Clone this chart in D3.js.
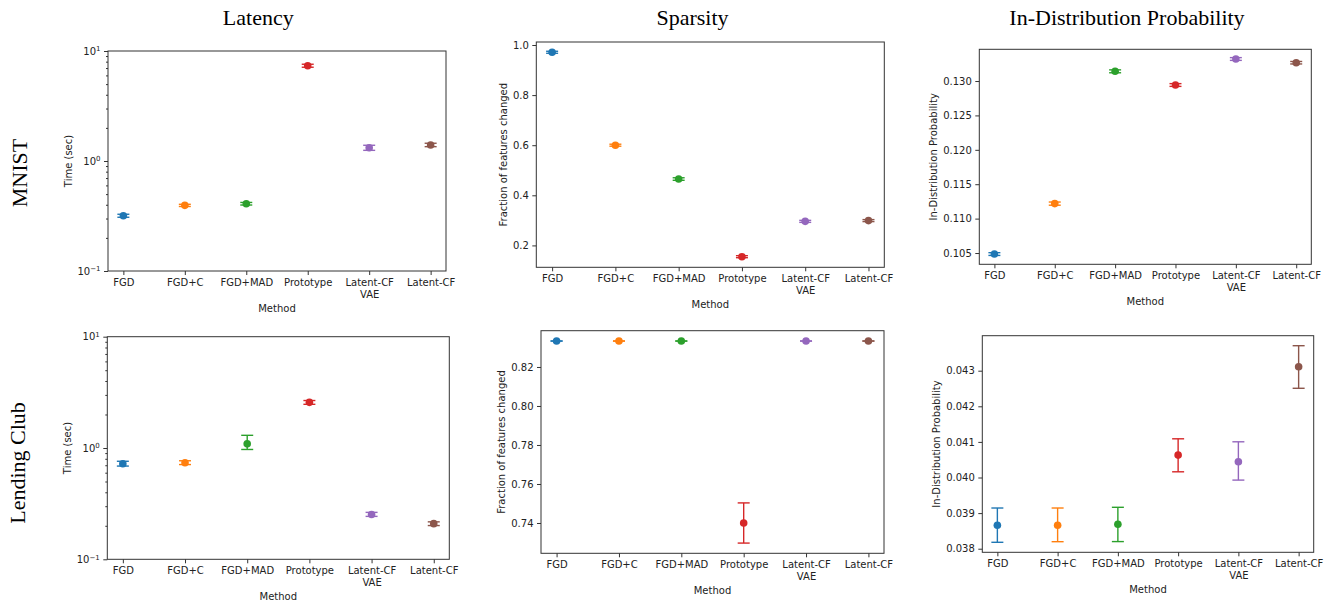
<!DOCTYPE html>
<html>
<head>
<meta charset="utf-8">
<script src="https://cdn.jsdelivr.net/npm/d3@7"></script>
<style>
body { margin: 0; background: #fff; }
</style>
</head>
<body>
<svg id="chart" width="1330" height="604"></svg>
<script>
// categories and colours
var methods = ["FGD", "FGD+C", "FGD+MAD", "Prototype", "Latent-CF\nVAE", "Latent-CF"];
var colors = ["#1f77b4", "#ff7f0e", "#2ca02c", "#d62728", "#9467bd", "#8c564b"];

// MNIST, latency (sec)
var mnistLatency   = [0.318, 0.395, 0.409, 7.35, 1.32, 1.40];
var mnistLatencyLo = [0.308, 0.386, 0.398, 7.12, 1.25, 1.35];
var mnistLatencyHi = [0.328, 0.404, 0.420, 7.58, 1.39, 1.45];

// MNIST, sparsity
var mnistSparsity   = [0.971, 0.600, 0.465, 0.155, 0.296, 0.299];
var mnistSparsityLo = [0.967, 0.596, 0.460, 0.151, 0.292, 0.295];
var mnistSparsityHi = [0.975, 0.604, 0.470, 0.159, 0.300, 0.303];

// MNIST, in-distribution probability
var mnistIdp   = [0.10485, 0.11218, 0.13141, 0.12942, 0.13320, 0.13266];
var mnistIdpLo = [0.10465, 0.11195, 0.13120, 0.12922, 0.13300, 0.13248];
var mnistIdpHi = [0.10505, 0.11241, 0.13162, 0.12962, 0.13340, 0.13284];

// Lending Club, latency (sec)
var lcLatency   = [0.723, 0.738, 1.09, 2.57, 0.253, 0.209];
var lcLatencyLo = [0.688, 0.710, 0.97, 2.47, 0.243, 0.201];
var lcLatencyHi = [0.760, 0.768, 1.30, 2.67, 0.264, 0.217];

// Lending Club, sparsity
var lcSparsity   = [0.8333, 0.8333, 0.8333, 0.7400, 0.8333, 0.8333];
var lcSparsityLo = [0.8333, 0.8333, 0.8333, 0.7297, 0.8333, 0.8333];
var lcSparsityHi = [0.8333, 0.8333, 0.8333, 0.7503, 0.8333, 0.8333];

// Lending Club, in-distribution probability
var lcIdp   = [0.038657, 0.038657, 0.038685, 0.040629, 0.040441, 0.043112];
var lcIdpLo = [0.038180, 0.038197, 0.038200, 0.040160, 0.039927, 0.042506];
var lcIdpHi = [0.039143, 0.039143, 0.039163, 0.041087, 0.041003, 0.043702];

// tick values
var latencyTicks = [0.1, 1, 10];
var mnistSparsityTicks = [0.2, 0.4, 0.6, 0.8, 1.0];
var mnistIdpTicks = [0.105, 0.110, 0.115, 0.120, 0.125, 0.130];
var lcSparsityTicks = [0.74, 0.76, 0.78, 0.80, 0.82];
var lcIdpTicks = [0.038, 0.039, 0.040, 0.041, 0.042, 0.043];

var titles = ["Latency", "Sparsity", "In-Distribution Probability"];
var rowLabels = ["MNIST", "Lending Club"];

var panels = [
    {left: 108, top: 51, width: 338, height: 220, log: true, domain: [0.1, 10], ticks: latencyTicks,
     mean: mnistLatency, lo: mnistLatencyLo, hi: mnistLatencyHi, ylabel: "Time (sec)"},
    {left: 536.3, top: 42, width: 348, height: 225.3, domain: [0.1126, 1.012], ticks: mnistSparsityTicks, fmt: ".1f",
     mean: mnistSparsity, lo: mnistSparsityLo, hi: mnistSparsityHi, ylabel: "Fraction of features changed"},
    {left: 979.3, top: 49.3, width: 332, height: 215, domain: [0.10336, 0.13461], ticks: mnistIdpTicks, fmt: ".3f",
     mean: mnistIdp, lo: mnistIdpLo, hi: mnistIdpHi, ylabel: "In-Distribution Probability"},
    {left: 107.3, top: 336.7, width: 342, height: 222.6, log: true, domain: [0.1, 10], ticks: latencyTicks,
     mean: lcLatency, lo: lcLatencyLo, hi: lcLatencyHi, ylabel: "Time (sec)"},
    {left: 541, top: 330.7, width: 343, height: 222.6, domain: [0.72446, 0.8386], ticks: lcSparsityTicks, fmt: ".2f",
     mean: lcSparsity, lo: lcSparsityLo, hi: lcSparsityHi, ylabel: "Fraction of features changed"},
    {left: 982.3, top: 335.7, width: 331.4, height: 216.6, domain: [0.037899, 0.043983], ticks: lcIdpTicks, fmt: ".3f",
     mean: lcIdp, lo: lcIdpLo, hi: lcIdpHi, ylabel: "In-Distribution Probability"}
];

var svg = d3.select("#chart");
var tickFont = "DejaVu Sans, sans-serif";
var serif = "Liberation Serif, Times New Roman, serif";

function drawPanel(p) {
    var g = svg.append("g");
    var bottom = p.top + p.height;

    var x = d3.scalePoint().domain(methods).range([p.left, p.left + p.width]).padding(0.25);
    var y = (p.log ? d3.scaleLog() : d3.scaleLinear()).domain(p.domain).range([bottom, p.top]);

    /* x axis, with two-line labels */
    var xAxis = g.append("g")
        .attr("transform", "translate(0," + bottom + ")")
        .call(d3.axisBottom(x).tickSize(4).tickPadding(3.5));
    xAxis.select(".domain").remove();
    xAxis.attr("font-family", tickFont).attr("font-size", 10);
    xAxis.selectAll(".tick line").attr("stroke", "#333");
    xAxis.selectAll(".tick text").attr("fill", "#222").attr("dy", null).each(function(d) {
        var t = d3.select(this);
        t.text(null);
        d.split("\n").forEach(function(line, i) {
            t.append("tspan").attr("x", 0).attr("dy", i ? "1.2em" : "0.71em").text(line);
        });
    });

    /* y axis */
    var yAxis = g.append("g")
        .attr("transform", "translate(" + p.left + ",0)")
        .call(d3.axisLeft(y).tickValues(p.ticks).tickSize(4).tickPadding(3.5)
            .tickFormat(p.log ? function() { return ""; } : d3.format(p.fmt)));
    yAxis.select(".domain").remove();
    yAxis.attr("font-family", tickFont).attr("font-size", 10);
    yAxis.selectAll(".tick line").attr("stroke", "#333");
    yAxis.selectAll(".tick text").attr("fill", "#222");

    if (p.log) {
        yAxis.selectAll(".tick text").each(function(d) {
            var e = Math.round(Math.log10(d));
            var t = d3.select(this);
            t.text("10");
            t.append("tspan").attr("dy", "-0.5em").attr("font-size", 7)
                .text(e < 0 ? "\u2212" + (-e) : String(e));
        });
        var minors = [];
        [0.1, 1].forEach(function(b) {
            for (var k = 2; k <= 9; k++) minors.push(b * k);
        });
        var minor = g.append("g")
            .attr("transform", "translate(" + p.left + ",0)")
            .call(d3.axisLeft(y).tickValues(minors).tickSize(2).tickFormat(""));
        minor.select(".domain").remove();
        minor.selectAll(".tick line").attr("stroke", "#333");
    }

    /* frame */
    g.append("rect")
        .attr("x", p.left).attr("y", p.top)
        .attr("width", p.width).attr("height", p.height)
        .attr("fill", "none").attr("stroke", "#333").attr("stroke-width", 1);

    /* axis labels */
    g.append("text")
        .attr("x", p.left + p.width / 2).attr("y", bottom + 40.5)
        .attr("text-anchor", "middle")
        .attr("font-family", tickFont).attr("font-size", 10).attr("fill", "#222")
        .text("Method");

    var bb = yAxis.node().getBBox();
    var cx = p.left + bb.x - 9.5;
    g.append("text")
        .attr("transform", "translate(" + (cx + 3.6) + "," + (p.top + p.height / 2) + ") rotate(-90)")
        .attr("text-anchor", "middle")
        .attr("font-family", tickFont).attr("font-size", 10).attr("fill", "#222")
        .text(p.ylabel);

    /* error bars and points */
    var idx = d3.range(methods.length);
    var cap = 6;
    var bars = g.append("g").selectAll("g").data(idx).enter().append("g")
        .attr("stroke", function(i) { return colors[i]; })
        .attr("stroke-width", 1.4);
    bars.append("line")
        .attr("x1", function(i) { return x(methods[i]); })
        .attr("x2", function(i) { return x(methods[i]); })
        .attr("y1", function(i) { return y(p.lo[i]); })
        .attr("y2", function(i) { return y(p.hi[i]); });
    bars.append("line")
        .attr("x1", function(i) { return x(methods[i]) - cap; })
        .attr("x2", function(i) { return x(methods[i]) + cap; })
        .attr("y1", function(i) { return y(p.lo[i]); })
        .attr("y2", function(i) { return y(p.lo[i]); });
    bars.append("line")
        .attr("x1", function(i) { return x(methods[i]) - cap; })
        .attr("x2", function(i) { return x(methods[i]) + cap; })
        .attr("y1", function(i) { return y(p.hi[i]); })
        .attr("y2", function(i) { return y(p.hi[i]); });

    g.append("g").selectAll("circle").data(idx).enter().append("circle")
        .attr("cx", function(i) { return x(methods[i]); })
        .attr("cy", function(i) { return y(p.mean[i]); })
        .attr("r", 3.8)
        .attr("fill", function(i) { return colors[i]; });
}

panels.forEach(drawPanel);

/* column titles and row labels */
var titleX = [258.3, 692.5, 1127];
titles.forEach(function(t, i) {
    svg.append("text")
        .attr("x", titleX[i]).attr("y", 25)
        .attr("text-anchor", "middle")
        .attr("font-family", serif).attr("font-size", 22).attr("fill", "#000")
        .text(t);
});

var rowY = [173, 463];
var rowX = [26.5, 24.5];
rowLabels.forEach(function(t, i) {
    svg.append("text")
        .attr("transform", "translate(" + rowX[i] + "," + rowY[i] + ") rotate(-90)")
        .attr("text-anchor", "middle")
        .attr("font-family", serif).attr("font-size", 22).attr("fill", "#000")
        .text(t);
});
</script>
</body>
</html>
